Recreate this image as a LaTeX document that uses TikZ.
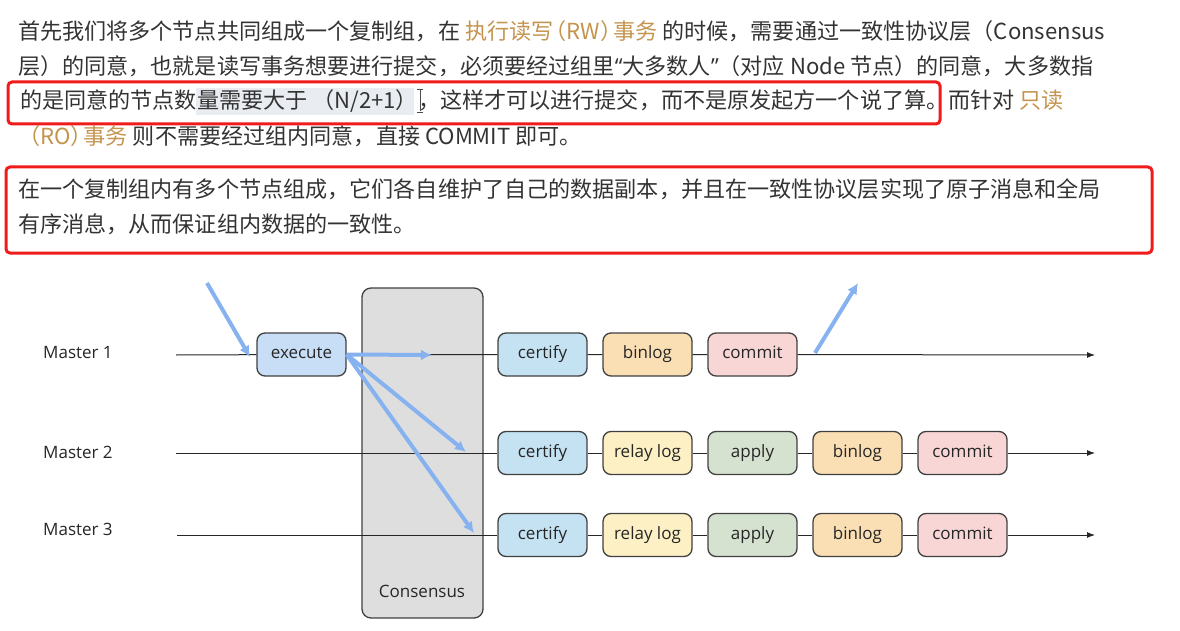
\documentclass[tikz,border=0pt]{standalone}
\usepackage{fontspec}
\setmainfont{Noto Sans CJK SC}
\newfontfamily\cjk{Noto Sans CJK SC}
\newfontfamily\diagfont{Open Sans}
\usetikzlibrary{arrows.meta}
\definecolor{txtgray}{RGB}{51,51,51}
\definecolor{codeorange}{RGB}{196,148,78}
\definecolor{markred}{RGB}{240,28,28}
\definecolor{selgray}{RGB}{233,236,240}
\definecolor{flowblue}{RGB}{135,178,240}
\definecolor{conbg}{RGB}{222,222,222}
\definecolor{edgegray}{RGB}{64,64,64}
\definecolor{execfill}{RGB}{200,222,246}
\definecolor{certfill}{RGB}{196,226,242}
\definecolor{binfill}{RGB}{250,222,180}
\definecolor{comfill}{RGB}{248,214,214}
\definecolor{relayfill}{RGB}{252,240,196}
\definecolor{applyfill}{RGB}{214,226,208}

\begin{document}
\begin{tikzpicture}[x=1pt, y=-1pt,
    para/.style={anchor=west, inner sep=0pt, text=txtgray, font=\cjk\fontsize{22.1}{27}\selectfont},
    redmark/.style={draw=markred, line width=3pt, rounded corners=4pt},
    stage/.style={draw=edgegray, line width=1.3pt, rounded corners=8pt, minimum width=89pt, minimum height=43pt, inner sep=0pt, text height=12.5pt, text depth=4.5pt, font=\diagfont\fontsize{17}{19}\selectfont, text=black!85},
    master/.style={anchor=west, inner sep=0pt, font=\diagfont\fontsize{17}{19}\selectfont, text=black!85},
    timeline/.style={draw=black!85, line width=1pt},
    flow/.style={draw=flowblue, line width=4pt, -{Latex[length=11pt,width=11pt]}}
]
    \useasboundingbox (0,0) rectangle (1180,631);

    % text above the diagram
    \fill[selgray] (196,88) rectangle (414,115);
    \node[para] (p1) at (18,31) {首先我们将多个节点共同组成一个复制组，在 {\color{codeorange}执行读写\kern-9pt（RW）\kern-9pt 事务} 的时候，需要通过一致性协议层（Consensus};
    \node[para] (p2) at (18,66) {层）的同意，也就是读写事务想要进行提交，必须要经过组里{\diagfont “}大多数人{\diagfont ”}（对应 Node 节点）的同意，大多数指};
    \node[para] (p3) at (20,101) {的是同意的节点数量需要大于 （N/2+1），这样才可以进行提交，而不是原发起方一个说了算。而针对 {\color{codeorange}只读}};
    \node[para] (p4) at (18,136) {{\color{codeorange}（RO）\kern-9pt 事务} 则不需要经过组内同意，直接 COMMIT 即可。};
    \draw[line width=0.8pt, black!70] (420,90) -- (420,111) (417,89) -- (423,89) (417,112) -- (423,112);
    \draw[redmark] (8,82) rectangle (940,124);

    \node[para] (p5) at (18,189) {在一个复制组内有多个节点组成，它们各自维护了自己的数据副本，并且在一致性协议层实现了原子消息和全局};
    \node[para] (p6) at (18,224) {有序消息，从而保证组内数据的一致性。};
    \draw[redmark] (6,167) rectangle (1152,253);

    % consensus layer
    \node[draw=edgegray, fill=conbg, line width=1.3pt, rounded corners=9pt, minimum width=121pt, minimum height=330pt] (cons) at (422.5,453) {};
    \node[master, anchor=center] (conslabel) at (422,591) {Consensus};

    % masters
    \node[master] (m1) at (43,353) {Master 1};
    \node[master] (m2) at (43,452) {Master 2};
    \node[master] (m3) at (43,529) {Master 3};

    \coordinate (s1) at (176,355);
    \coordinate (s2) at (176,453);
    \coordinate (s3) at (177,535);
    \coordinate (e1) at (1095,355);
    \coordinate (e2) at (1095,453);
    \coordinate (e3) at (1095,535);

    % stages
    \node[stage, fill=execfill] (exec) at (301.5,354.5) {execute};
    \node[stage, fill=certfill] (cert1) at (542.5,354.5) {certify};
    \node[stage, fill=binfill] (bin1) at (647.5,354.5) {binlog};
    \node[stage, fill=comfill] (com1) at (752.5,354.5) {commit};

    \node[stage, fill=certfill] (cert2) at (542.5,453) {certify};
    \node[stage, fill=relayfill] (relay2) at (647.5,453) {relay log};
    \node[stage, fill=applyfill] (apply2) at (752.5,453) {apply};
    \node[stage, fill=binfill] (bin2) at (857.5,453) {binlog};
    \node[stage, fill=comfill] (com2) at (962.5,453) {commit};

    \node[stage, fill=certfill] (cert3) at (542.5,535) {certify};
    \node[stage, fill=relayfill] (relay3) at (647.5,535) {relay log};
    \node[stage, fill=applyfill] (apply3) at (752.5,535) {apply};
    \node[stage, fill=binfill] (bin3) at (857.5,535) {binlog};
    \node[stage, fill=comfill] (com3) at (962.5,535) {commit};

    % time lines
    \draw[timeline] (s1) -- (exec) -- (cert1) -- (bin1) -- (com1);
    \draw[timeline, -{Latex[length=8pt,width=6pt]}] (com1) -- (e1);
    \draw[timeline] (s2) -- (cert2) -- (relay2) -- (apply2) -- (bin2) -- (com2);
    \draw[timeline, -{Latex[length=8pt,width=6pt]}] (com2) -- (e2);
    \draw[timeline] (s3) -- (cert3) -- (relay3) -- (apply3) -- (bin3) -- (com3);
    \draw[timeline, -{Latex[length=8pt,width=6pt]}] (com3) -- (e3);

    % message flow
    \coordinate (in1) at (207,283);
    \coordinate (in1end) at (250,357);
    \coordinate (f1) at (432,355);
    \coordinate (f2) at (466,452);
    \coordinate (f3) at (474,533);
    \coordinate (out1) at (815,353);
    \coordinate (out1end) at (858,283);
    \draw[flow] (in1) -- (in1end);
    \draw[flow] (exec.east) -- (f1);
    \draw[flow] (exec.east) -- (f2);
    \draw[flow] (exec.east) -- (f3);
    \draw[flow] (out1) -- (out1end);
\end{tikzpicture}
\end{document}
